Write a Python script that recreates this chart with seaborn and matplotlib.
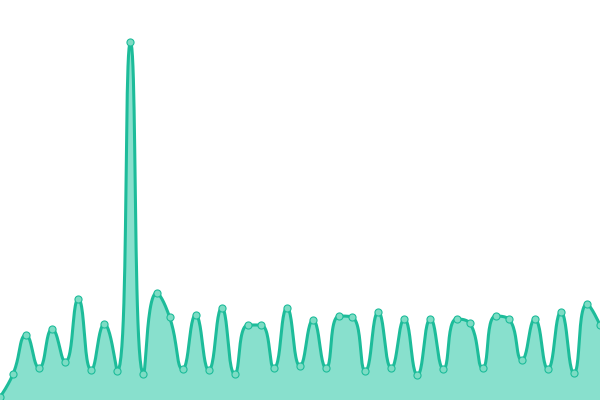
import numpy as np
import pandas as pd
import seaborn as sns
import matplotlib.pyplot as plt

# values (one point per step)
values = [3, 26, 65, 32, 71, 38, 101, 30, 76, 29,
          358, 26, 107, 83, 31, 85, 30, 92, 26, 75,
          75, 32, 92, 34, 80, 32, 84, 83, 29, 88,
          32, 81, 25, 81, 31, 81, 77, 32, 84, 81,
          40, 81, 31, 88, 27, 96, 75]
steps = list(range(len(values)))

line_color = "#1dbc9a"
fill_color = "#88e0cd"
dot_color = "#7ddcc4"

W, H = 600, 400
YMAX = 400


def smooth_curve(xs, ys, smooth=0.5, n=24):
    # bezier smoothing with clamped control points (echarts style), done in pixels
    sx_ = W / (len(xs) - 1)
    sy_ = H / YMAX
    px = np.asarray(xs, float) * sx_
    py = np.asarray(ys, float) * sy_
    out_x, out_y = [px[0]], [py[0]]
    cp0 = (px[0], py[0])
    t = np.linspace(0, 1, n + 1)[1:]
    N = len(px)
    for i in range(1, N):
        x, y = px[i], py[i]
        prx, pry = px[i - 1], py[i - 1]
        if i == N - 1:
            cp1 = (x, y)
            ncp0 = (x, y)
        else:
            nx, ny = px[i + 1], py[i + 1]
            vx, vy = nx - prx, ny - pry
            lp = np.hypot(x - prx, y - pry)
            ln = np.hypot(nx - x, ny - y)
            r = ln / (ln + lp)
            ncx = x + vx * smooth * r
            ncy = y + vy * smooth * r
            ncx = max(min(ncx, max(nx, x)), min(nx, x))
            ncy = max(min(ncy, max(ny, y)), min(ny, y))
            vx, vy = ncx - x, ncy - y
            c1x = x - vx * lp / ln
            c1y = y - vy * lp / ln
            c1x = max(min(c1x, max(prx, x)), min(prx, x))
            c1y = max(min(c1y, max(pry, y)), min(pry, y))
            vx, vy = x - c1x, y - c1y
            ncp0 = (x + vx * ln / lp, y + vy * ln / lp)
            cp1 = (c1x, c1y)
        for arr, k in ((out_x, 0), (out_y, 1)):
            p0 = (prx, pry)[k]
            arr.extend((1 - t) ** 3 * p0 + 3 * (1 - t) ** 2 * t * cp0[k]
                       + 3 * (1 - t) * t ** 2 * cp1[k] + t ** 3 * (x, y)[k])
        cp0 = ncp0
    return np.array(out_x) / sx_, np.array(out_y) / sy_


sx, sy = smooth_curve(steps, values)
curve = pd.DataFrame({"x": sx, "y": sy})
points = pd.DataFrame({"x": steps, "y": values})

sns.set_style("white")
fig = plt.figure(figsize=(6, 4), dpi=100)
ax = fig.add_axes([0, 0, 1, 1])

ax.fill_between(sx, 0, sy, color=fill_color, lw=0)
sns.lineplot(data=curve, x="x", y="y", ax=ax, color=line_color, lw=2.2, sort=False)
sns.scatterplot(data=points, x="x", y="y", ax=ax, color=dot_color,
                edgecolor=line_color, linewidth=0.8, s=26, zorder=5)

ax.set_xlim(0, len(values) - 1)
ax.set_ylim(0, YMAX)
ax.axis("off")

fig.savefig("out.png", dpi=100)
